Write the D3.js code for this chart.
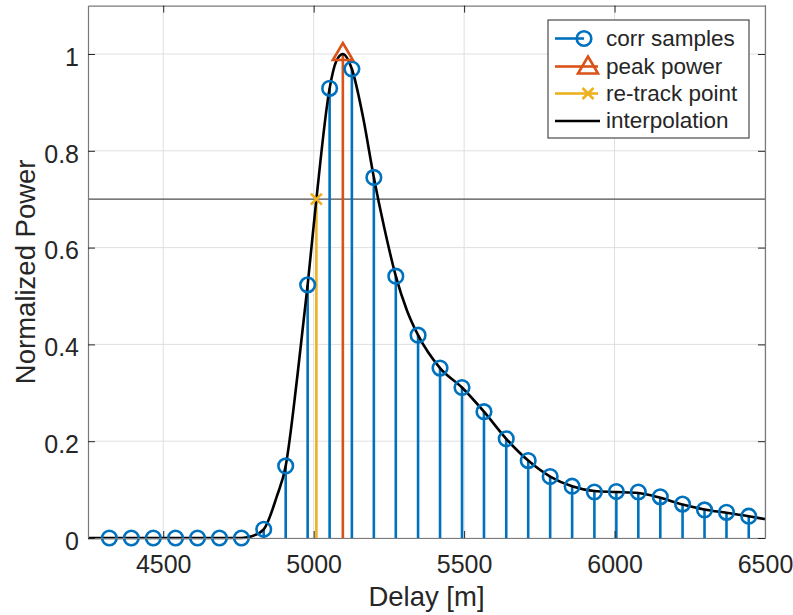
<!DOCTYPE html>
<html>
<head>
<meta charset="utf-8">
<script src="https://cdn.jsdelivr.net/npm/d3@7"></script>
<style>
  html, body { margin: 0; padding: 0; background: #fff; }
  svg text { font-family: "Liberation Sans", Arial, Helvetica, sans-serif; fill: #262626; }
</style>
</head>
<body>
<svg id="chart" width="793" height="615"></svg>
<script>
// ---------------- data ----------------
const sampleDelay = [4321, 4394, 4467, 4541, 4614, 4687, 4760, 4834, 4907, 4980,
                     5053, 5127, 5200, 5273, 5347, 5420, 5493, 5566, 5640, 5713,
                     5786, 5859, 5933, 6006, 6079, 6152, 6226, 6299, 6372, 6446];
const samplePower = [0, 0, 0, 0, 0, 0, 0, 0.018, 0.149, 0.523,
                     0.929, 0.969, 0.745, 0.541, 0.419, 0.351, 0.311, 0.261, 0.205, 0.160,
                     0.127, 0.107, 0.095, 0.096, 0.095, 0.085, 0.070, 0.058, 0.053, 0.045];
const peakDelay = [5097];
const peakPower = [1.0];
const retrackDelay = [5009];
const retrackPower = [0.7];
const interpDelay = [4250, 4760, 4790, 4834, 4877, 4907, 4945, 4980, 5009, 5053, 5075, 5097,
                     5127, 5164, 5200, 5235, 5273, 5310, 5347, 5420, 5493, 5566, 5640, 5713,
                     5786, 5859, 5933, 6006, 6079, 6152, 6226, 6299, 6372, 6446, 6500];
const interpPower = [0, 0, 0.003, 0.018, 0.085, 0.149, 0.33, 0.523, 0.70, 0.929, 0.985, 1.0,
                     0.969, 0.87, 0.745, 0.64, 0.541, 0.47, 0.419, 0.351, 0.311, 0.261, 0.205, 0.160,
                     0.127, 0.107, 0.097, 0.095, 0.093, 0.083, 0.069, 0.059, 0.052, 0.045, 0.039];
const thresholdLevel = 0.7;
const xTicks = [4500, 5000, 5500, 6000, 6500];
const yTicks = [0, 0.2, 0.4, 0.6, 0.8, 1];
const legendLabels = ["corr samples", "peak power", "re-track point", "interpolation"];

// ---------------- layout ----------------
const svg = d3.select("#chart");
const L = 88, R = 765, T = 5.6, B = 538;
const x = d3.scaleLinear().domain([4250, 6500]).range([L, R]);
const y = d3.scaleLinear().domain([0, 1.1]).range([B, T]);

const BLUE = "#0072BD", ORANGE = "#D95319", YELLOW = "#EDB120";
const LW = 2.6;

// grid
const grid = svg.append("g");
grid.selectAll("line.gx").data(xTicks).join("line")
  .attr("x1", d => x(d)).attr("x2", d => x(d)).attr("y1", T).attr("y2", B)
  .attr("stroke", "#dfdfdf").attr("stroke-width", 1);
grid.selectAll("line.gy").data(yTicks).join("line")
  .attr("x1", L).attr("x2", R).attr("y1", d => y(d)).attr("y2", d => y(d))
  .attr("stroke", "#dfdfdf").attr("stroke-width", 1);

// threshold line
svg.append("line")
  .attr("x1", L).attr("x2", R).attr("y1", y(thresholdLevel)).attr("y2", y(thresholdLevel))
  .attr("stroke", "#4d4d4d").attr("stroke-width", 1.2);

// stems
const samples = sampleDelay.map((d, i) => ({d, p: samplePower[i]}));
svg.append("g").selectAll("line").data(samples).join("line")
  .attr("x1", s => x(s.d)).attr("x2", s => x(s.d)).attr("y1", y(0)).attr("y2", s => y(s.p))
  .attr("stroke", BLUE).attr("stroke-width", LW);
svg.append("g").selectAll("line").data(peakDelay).join("line")
  .attr("x1", d => x(d)).attr("x2", d => x(d)).attr("y1", y(0)).attr("y2", (d, i) => y(peakPower[i]))
  .attr("stroke", ORANGE).attr("stroke-width", LW);
svg.append("g").selectAll("line").data(retrackDelay).join("line")
  .attr("x1", d => x(d)).attr("x2", d => x(d)).attr("y1", y(0)).attr("y2", (d, i) => y(retrackPower[i]))
  .attr("stroke", YELLOW).attr("stroke-width", LW);

// markers
function circleMarker(g, cx, cy) {
  g.append("circle").attr("cx", cx).attr("cy", cy).attr("r", 7.3)
    .attr("fill", "none").attr("stroke", BLUE).attr("stroke-width", LW);
}
function triMarker(g, cx, cy) {
  g.append("path").attr("d", `M${cx},${cy - 11} L${cx + 10},${cy + 6} L${cx - 10},${cy + 6} Z`)
    .attr("fill", "none").attr("stroke", ORANGE).attr("stroke-width", LW).attr("stroke-linejoin", "miter");
}
function xMarker(g, cx, cy) {
  const s = 5.5;
  g.append("path").attr("d", `M${cx - s},${cy - s} L${cx + s},${cy + s} M${cx - s},${cy + s} L${cx + s},${cy - s}`)
    .attr("stroke", YELLOW).attr("stroke-width", LW);
}

// interpolation curve
const line = d3.line().x((d, i) => x(d)).y((d, i) => y(interpPower[i])).curve(d3.curveMonotoneX);
svg.append("path").datum(interpDelay).attr("d", line)
  .attr("fill", "none").attr("stroke", "#000").attr("stroke-width", LW);

const mk = svg.append("g");
samples.forEach(s => circleMarker(mk, x(s.d), y(s.p)));
peakDelay.forEach((d, i) => triMarker(mk, x(d), y(peakPower[i])));
retrackDelay.forEach((d, i) => xMarker(mk, x(d), y(retrackPower[i])));

// axes
const fmtY = d => d === 0 ? "0" : d === 1 ? "1" : String(d);
const ax = svg.append("g").attr("transform", `translate(0,${B})`)
  .call(d3.axisBottom(x).tickValues(xTicks).tickSizeInner(-7).tickSizeOuter(0).tickPadding(17).tickFormat(d3.format("d")));
const ay = svg.append("g").attr("transform", `translate(${L},0)`)
  .call(d3.axisLeft(y).tickValues(yTicks).tickSizeInner(-7).tickSizeOuter(0).tickPadding(9).tickFormat(fmtY));
const at = svg.append("g").attr("transform", `translate(0,${T})`)
  .call(d3.axisTop(x).tickValues(xTicks).tickSizeInner(-7).tickSizeOuter(0).tickFormat(""));
const ar = svg.append("g").attr("transform", `translate(${R},0)`)
  .call(d3.axisRight(y).tickValues(yTicks).tickSizeInner(-7).tickSizeOuter(0).tickFormat(""));
[ax, ay, at, ar].forEach(g => {
  g.select(".domain").attr("stroke", "#7a7a7a").attr("stroke-width", 1.2);
  g.selectAll(".tick line").attr("stroke", "#262626").attr("stroke-width", 1);
  g.selectAll(".tick text").style("font-size", "25px").attr("fill", "#262626");
});
ay.selectAll(".tick text").attr("dy", "0.45em");
ax.selectAll(".tick").filter(d => d === 6500).select("line").remove();

// axis labels
svg.append("text").attr("x", (L + R) / 2).attr("y", 606).attr("text-anchor", "middle")
  .style("font-size", "27.5px").text("Delay [m]");
svg.append("text").attr("transform", `translate(35,${(T + B) / 2}) rotate(-90)`)
  .attr("text-anchor", "middle").style("font-size", "27.5px").text("Normalized Power");

// legend
const lg = svg.append("g");
lg.append("rect").attr("x", 548).attr("y", 20).attr("width", 201).attr("height", 118)
  .attr("fill", "#fff").attr("stroke", "#262626").attr("stroke-width", 1);
const rowY = [38.5, 66.5, 93.5, 121];
const rowColor = [BLUE, ORANGE, YELLOW, "#000"];
legendLabels.forEach((lab, i) => {
  const cy = rowY[i];
  lg.append("line").attr("x1", 555).attr("x2", i === 3 ? 600 : 584).attr("y1", cy).attr("y2", cy)
    .attr("stroke", rowColor[i]).attr("stroke-width", LW);
  if (i === 0) { circleMarker(lg, 584, cy); }
  if (i === 1) { lg.append("line").attr("x1", 584).attr("x2", 598).attr("y1", cy).attr("y2", cy).attr("stroke", ORANGE).attr("stroke-width", LW); triMarker(lg, 588, cy + 1); }
  if (i === 2) { lg.append("line").attr("x1", 584).attr("x2", 598).attr("y1", cy).attr("y2", cy).attr("stroke", YELLOW).attr("stroke-width", LW); xMarker(lg, 588, cy); }
  lg.append("text").attr("x", 606).attr("y", cy + 7).style("font-size", "22.5px").text(lab);
});
</script>
</body>
</html>
